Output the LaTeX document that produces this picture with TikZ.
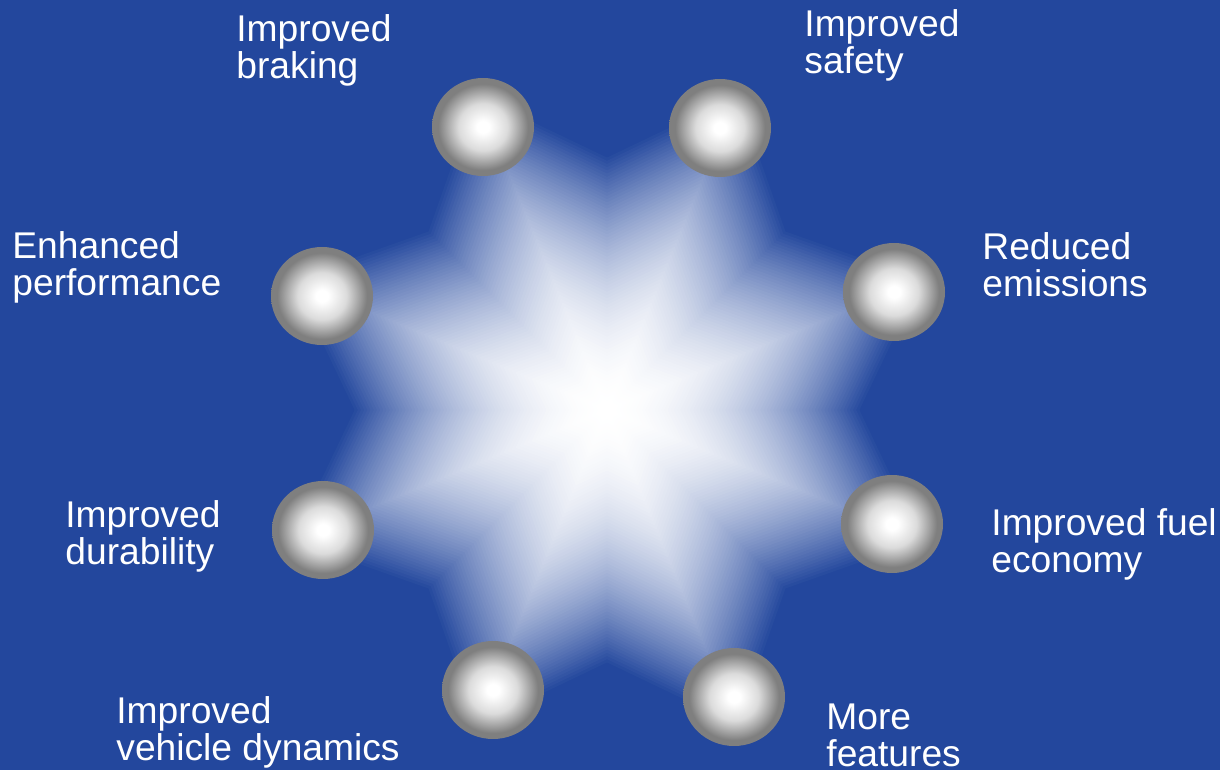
\documentclass[tikz,border=0pt]{standalone}
\usepackage{fontspec}
\setmainfont{Liberation Sans}
\usepackage{tikz}
\usetikzlibrary{shapes.geometric}
\definecolor{bgblue}{HTML}{23479D}
\definecolor{ballrim}{HTML}{7F7F7F}
\pgfdeclareradialshading{ballshade}{\pgfpoint{0bp}{0bp}}{%
  color(0bp)=(white); color(3bp)=(white); color(12bp)=(white!72!ballrim);
  color(22bp)=(ballrim); color(25bp)=(ballrim); color(50bp)=(ballrim)}
\tikzset{
  ball/.style={
    ellipse,
    minimum width=51pt,
    minimum height=49pt,
    inner sep=0pt,
    shade,
    shading=ballshade
  },
  glow/.style={
    star,
    star points=8,
    star point ratio=1.35,
    shape border rotate=22.5,
    inner sep=0pt
  },
  benefit/.style={
    anchor=base west,
    inner sep=0pt,
    align=left,
    text=white,
    font=\fontsize{18.6}{18.5}\selectfont
  }
}

\begin{document}
\begin{tikzpicture}[x=0.5pt, y=-0.5pt]
  \useasboundingbox (0,0) rectangle (1220,770);
  \fill[bgblue] (0,0) rectangle (1220,770);
  \coordinate (hub) at (607,410);

  % fading star behind the balls
  \foreach \i in {0,...,79}{
    \pgfmathsetmacro{\s}{1-\i/80}
    \pgfmathsetmacro{\p}{100*(1-\s*\s)}
    \node[glow, minimum size={345*\s pt}, fill=white!\p!bgblue] (glow\i) at (hub) {};
  }

  \foreach \x/\y [count=\n] in {483/127, 720/128, 894/292, 892/524, 734/697, 493/690, 323/530, 322/296}
    \node[ball] (ball\n) at (\x,\y) {};

  % base = last line
  \node[benefit] (braking) at (236,79) {Improved\\braking};
  \node[benefit] (safety) at (804,74) {Improved\\safety};
  \node[benefit] (performance) at (12,295) {Enhanced\\performance};
  \node[benefit] (emissions) at (982,296) {Reduced\\emissions};
  \node[benefit] (durability) at (65,564) {Improved\\durability};
  \node[benefit] (economy) at (991,572) {Improved fuel\\economy};
  \node[benefit] (dynamics) at (116,760) {Improved\\vehicle dynamics};
  \node[benefit] (features) at (826,766) {More\\features};
\end{tikzpicture}
\end{document}
